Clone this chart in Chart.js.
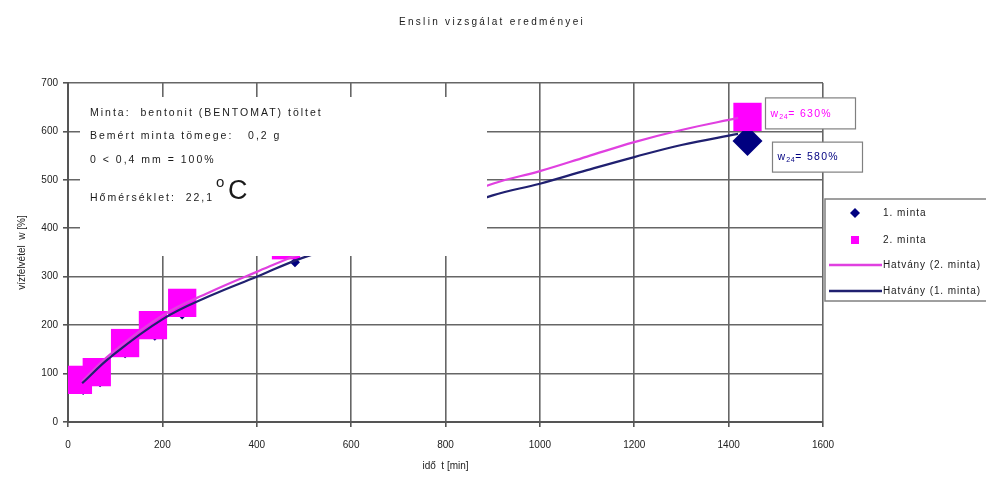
<!DOCTYPE html>
<html>
<head>
<meta charset="utf-8">
<title>Enslin vizsgálat eredményei</title>
<script src="https://cdn.jsdelivr.net/npm/chart.js@4.4.1/dist/chart.umd.min.js"></script>
<style>
  body { margin: 0; background: #fff; }
  #wrap { width: 986px; height: 482px; }
</style>
</head>
<body>
<div id="wrap"><canvas id="chart" width="986" height="482"></canvas></div>
<script>
/* =========================
   DATA
========================= */
const xTicks = [0, 200, 400, 600, 800, 1000, 1200, 1400, 1600];
const yTicks = [0, 100, 200, 300, 400, 500, 600, 700];

// 1. minta – measured points
const minta1T = [32, 68, 121, 184, 242, 481, 1440];
const minta1W = [66, 82, 142, 178, 222, 330, 580];

// 2. minta – measured points
const minta2T = [21, 61, 121, 180, 242, 462, 1440];
const minta2W = [87, 103, 163, 200, 246, 365, 630];

// power trend lines
const trendT = [30, 90, 200, 300, 400, 500, 900, 1000, 1100, 1200, 1300, 1420];
const trend1W = [80, 134, 212, 260, 300, 340, 468, 492, 520, 547, 572, 595];
const trend2W = [84, 140, 220, 268, 310, 350, 492, 518, 548, 578, 603, 628];

const infoLines = [
  "Minta:  bentonit (BENTOMAT) töltet",
  "Bemért minta tömege:   0,2 g",
  "0 < 0,4 mm = 100%"
];
const tempText = "Hőmérséklet:  22,1";
const w24Labels = ["630%", "580%"];

const FONT = '"Liberation Sans", Arial, sans-serif';
const NAVY = "#000080";
const MAGENTA = "#FF00FF";

function pts(xs, ys) {
  return xs.map((x, i) => ({ x: x, y: ys[i] }));
}

/* =========================
   OVERLAY: text box, labels, legend, title
========================= */
function txt(ctx, s, x, y, size, color, spacing, align) {
  ctx.font = size + "px " + FONT;
  ctx.fillStyle = color;
  ctx.letterSpacing = (spacing || 0) + "px";
  ctx.textAlign = align || "left";
  ctx.textBaseline = "middle";
  ctx.fillText(s, x, y);
  return ctx.measureText(s).width;
}

function w24(ctx, x, y, value, color) {
  let w = txt(ctx, "w", x, y, 10.5, color, 1.2);
  let s = txt(ctx, "24", x + w, y + 3, 7, color, 0.6);
  txt(ctx, "= " + value, x + w + s, y, 10.5, color, 1.3);
}

const overlay = {
  id: "overlay",
  afterDatasetsDraw(chart) {
    const ctx = chart.ctx;
    const xs = chart.scales.x, ys = chart.scales.y;
    ctx.save();

    // white text box covering part of the plot
    ctx.fillStyle = "#fff";
    ctx.fillRect(80, 97, 407, 159);

    infoLines.forEach((l, i) => {
      txt(ctx, l, 90, 113 + i * 23.5, 10.5, "#1a1a1a", 2.0);
    });
    let tw = txt(ctx, tempText, 90, 198, 10.5, "#1a1a1a", 2.0);
    txt(ctx, "o", 90 + tw + 2, 183, 15, "#1a1a1a", 0);
    txt(ctx, "C", 90 + tw + 14, 192, 27, "#1a1a1a", 0);

    // w24 value labels next to the last points
    const px = xs.getPixelForValue(1440);
    const p2 = ys.getPixelForValue(630);
    const p1 = ys.getPixelForValue(580);
    ctx.strokeStyle = "#808080";
    ctx.lineWidth = 1.2;
    ctx.fillStyle = "#fff";
    ctx.fillRect(px + 18, p2 - 19, 90, 31);
    ctx.strokeRect(px + 18, p2 - 19, 90, 31);
    ctx.fillStyle = "#fff";
    ctx.fillRect(px + 25, p1 + 1, 90, 30);
    ctx.strokeRect(px + 25, p1 + 1, 90, 30);
    w24(ctx, px + 23, p2 - 3, w24Labels[0], MAGENTA);
    w24(ctx, px + 30, p1 + 16, w24Labels[1], NAVY);

    // legend
    ctx.fillStyle = "#fff";
    ctx.fillRect(825, 199, 170, 102);
    ctx.strokeStyle = "#808080";
    ctx.lineWidth = 1.5;
    ctx.strokeRect(825, 199, 170, 102);

    ctx.fillStyle = NAVY;
    ctx.beginPath();
    ctx.moveTo(855, 208); ctx.lineTo(860, 213); ctx.lineTo(855, 218); ctx.lineTo(850, 213);
    ctx.closePath(); ctx.fill();
    txt(ctx, "1. minta", 883, 213, 10, "#1a1a1a", 1.0);

    ctx.fillStyle = MAGENTA;
    ctx.fillRect(851, 236, 8, 8);
    txt(ctx, "2. minta", 883, 240, 10, "#1a1a1a", 1.0);

    ctx.lineWidth = 2.5;
    ctx.strokeStyle = "#E040E0";
    ctx.beginPath(); ctx.moveTo(829, 265); ctx.lineTo(882, 265); ctx.stroke();
    txt(ctx, "Hatvány (2. minta)", 883, 265, 10, "#1a1a1a", 0.9);

    ctx.strokeStyle = "#202070";
    ctx.beginPath(); ctx.moveTo(829, 291); ctx.lineTo(882, 291); ctx.stroke();
    txt(ctx, "Hatvány (1. minta)", 883, 291, 10, "#1a1a1a", 0.9);

    // chart title
    txt(ctx, "Enslin vizsgálat eredményei", 492, 22, 10, "#1a1a1a", 2.3, "center");

    ctx.restore();
  }
};

/* =========================
   CHART
========================= */
const grid = {
  color: "#666",
  lineWidth: 1.6,
  tickLength: 5,
  tickColor: "#555"
};

const tickFont = { family: FONT, size: 10 };

new Chart(document.getElementById("chart"), {
  type: "scatter",
  data: {
    datasets: [
      {
        label: "Hatvány (1. minta)",
        data: pts(trendT, trend1W),
        showLine: true,
        borderColor: "#202070",
        borderWidth: 2.2,
        pointRadius: 0,
        tension: 0.4,
        order: 1
      },
      {
        label: "Hatvány (2. minta)",
        data: pts(trendT, trend2W),
        showLine: true,
        borderColor: "#E040E0",
        borderWidth: 2.2,
        pointRadius: 0,
        tension: 0.4,
        order: 2
      },
      {
        label: "2. minta",
        data: pts(minta2T, minta2W),
        pointStyle: "rect",
        pointRadius: 20,
        backgroundColor: MAGENTA,
        borderColor: MAGENTA,
        borderWidth: 0,
        order: 3
      },
      {
        label: "1. minta",
        data: pts(minta1T, minta1W),
        pointStyle: "rectRot",
        pointRadius: c => c.dataIndex === minta1T.length - 1 ? 15 : 5,
        backgroundColor: NAVY,
        borderColor: NAVY,
        borderWidth: 0,
        order: 4
      }
    ]
  },
  options: {
    responsive: false,
    devicePixelRatio: 1,
    animation: false,
    layout: { padding: { top: 83, right: 163, left: 0, bottom: 0 } },
    plugins: {
      legend: { display: false },
      tooltip: { enabled: false }
    },
    scales: {
      x: {
        type: "linear",
        min: 0,
        max: 1600,
        afterBuildTicks: s => { s.ticks = xTicks.map(v => ({ value: v })); },
        afterFit: s => { s.height = 60; },
        ticks: { font: tickFont, color: "#222", padding: 12, callback: v => String(v) },
        grid: grid,
        border: { color: "#555", width: 2 },
        title: {
          display: true,
          text: "idő  t [min]",
          font: tickFont,
          color: "#222",
          padding: { top: 4, bottom: 10 }
        }
      },
      y: {
        type: "linear",
        min: 0,
        max: 700,
        afterBuildTicks: s => { s.ticks = yTicks.map(v => ({ value: v })); },
        afterFit: s => { s.width = 68; },
        ticks: { font: tickFont, color: "#222", padding: 5, callback: v => String(v) },
        grid: grid,
        border: { color: "#555", width: 2 },
        title: {
          display: true,
          text: "vízfelvétel  w [%]",
          font: tickFont,
          color: "#222",
          padding: { top: 16, bottom: 4 }
        }
      }
    }
  },
  plugins: [overlay]
});
</script>
</body>
</html>
